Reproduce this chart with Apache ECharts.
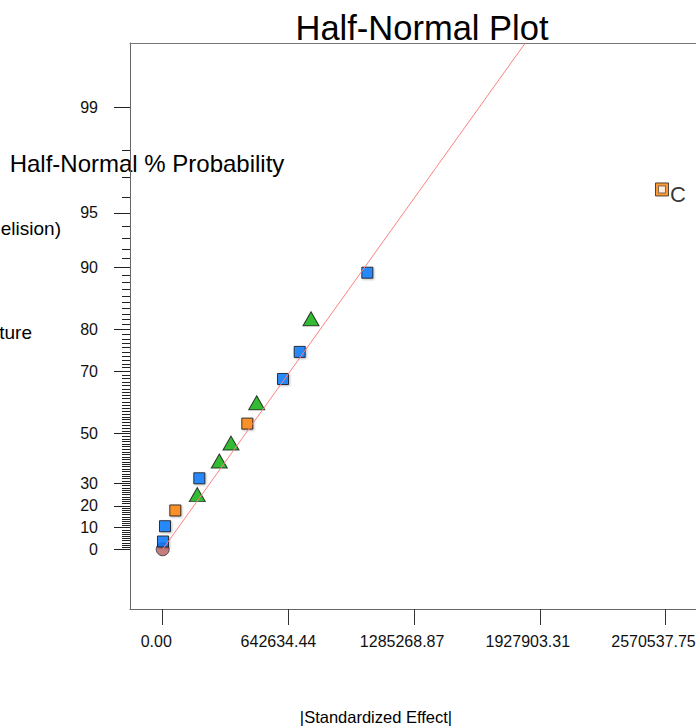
<!DOCTYPE html>
<html>
<head>
<meta charset="utf-8">
<script src="https://cdn.jsdelivr.net/npm/echarts@6/dist/echarts.min.js"></script>
<style>
  html, body { margin: 0; padding: 0; background: #fff; }
  #chart { width: 696px; height: 728px; }
</style>
</head>
<body>
<div id="chart"></div>
<script>
// |Standardized Effect| and half-normal % probability, one pair of arrays per marker group
const blueEffect = [1500, 11800, 187100, 615000, 700400, 1046000];
const blueProb = [3.6, 10.7, 32.1, 67.9, 75.0, 89.3];
const orangeEffect = [64400, 432500];
const orangeProb = [17.9, 53.6];
const greenEffect = [176900, 289400, 349200, 480600, 758200];
const greenProb = [25.0, 39.3, 46.4, 60.7, 82.1];
const originEffect = [0];
const originProb = [0];
const termCEffect = [2552600];
const termCProb = [96.4];
const termCLabel = ['C'];
// red reference line (through origin)
const fitEffect = [0, 1852000];
const fitProb = [0, 99.68];

// tick labels
const yMajorTicks = [0, 10, 20, 30, 50, 70, 80, 90, 95, 99];
const yMinorTicks = [];
for (let i = 1; i <= 98; i++) yMinorTicks.push(i);
const xTicks = [0, 642634.44, 1285268.87, 1927903.31, 2570537.75];

const FONT = '"Liberation Sans", Arial, Helvetica, sans-serif';

// inverse normal CDF (Acklam)
function probit(p) {
  const a = [-3.969683028665376e+01, 2.209460984245205e+02, -2.759285104469687e+02, 1.383577518672690e+02, -3.066479806614716e+01, 2.506628277459239e+00];
  const b = [-5.447609879822406e+01, 1.615858368580409e+02, -1.556989798598866e+02, 6.680131188771972e+01, -1.328068155288572e+01];
  const c = [-7.784894002430293e-03, -3.223964580411365e-01, -2.400758277161838e+00, -2.549732539343734e+00, 4.374664141464968e+00, 2.938163982698783e+00];
  const d = [7.784695709041462e-03, 3.224671290700398e-01, 2.445134137142996e+00, 3.754408661907416e+00];
  const pl = 0.02425, ph = 1 - pl;
  let q, r;
  if (p < pl) {
    q = Math.sqrt(-2 * Math.log(p));
    return (((((c[0]*q+c[1])*q+c[2])*q+c[3])*q+c[4])*q+c[5]) / ((((d[0]*q+d[1])*q+d[2])*q+d[3])*q+1);
  }
  if (p <= ph) {
    q = p - 0.5; r = q * q;
    return (((((a[0]*r+a[1])*r+a[2])*r+a[3])*r+a[4])*r+a[5])*q / (((((b[0]*r+b[1])*r+b[2])*r+b[3])*r+b[4])*r+1);
  }
  q = Math.sqrt(-2 * Math.log(1 - p));
  return -(((((c[0]*q+c[1])*q+c[2])*q+c[3])*q+c[4])*q+c[5]) / ((((d[0]*q+d[1])*q+d[2])*q+d[3])*q+1);
}

// half-normal probability scale: % -> quantile
function hn(pct) {
  if (pct <= 0) return 0;
  return probit((1 + pct / 100) / 2);
}

function pairs(xs, ps) {
  return xs.map((x, i) => [x, hn(ps[i])]);
}

const yMajorZ = yMajorTicks.map(hn);
const yMinorZ = yMinorTicks.map(hn);

const X_MIN = -167175;
const X_MAX = 2726440;
const Y_MIN = -0.348;
const Y_MAX = 2.9505;

const squareStyle = (color) => ({
  color: color,
  borderColor: '#111',
  borderWidth: 1,
  shadowColor: 'rgba(0,0,0,0.3)',
  shadowBlur: 2,
  shadowOffsetX: 1,
  shadowOffsetY: 1
});

const chart = echarts.init(document.getElementById('chart'), null, { renderer: 'svg' });

const option = {
  animation: false,
  backgroundColor: '#fff',
  grid: {
    left: 130,
    top: 43,
    right: 0,
    height: 566,
    show: false,
    containLabel: false,
    outerBoundsMode: 'none'
  },
  xAxis: [
    {
      type: 'value',
      position: 'bottom',
      min: X_MIN,
      max: X_MAX,
      splitLine: { show: false },
      axisLine: { show: true, onZero: false, lineStyle: { color: '#666', width: 1 } },
      axisTick: { customValues: xTicks, length: 16, lineStyle: { color: '#333' } },
      axisLabel: {
        customValues: xTicks,
        margin: 24,
        fontSize: 16,
        fontFamily: FONT,
        color: '#111',
        // labels sit a bit left of their ticks, more so for longer ones
        formatter: (v) => {
          const txt = v.toFixed(2);
          return '{w' + Math.min(txt.length, 10) + '|' + txt + '}';
        },
        rich: {
          w4: { fontSize: 16, fontFamily: FONT, color: '#111', padding: [0, 13, 0, 0] },
          w9: { fontSize: 16, fontFamily: FONT, color: '#111', padding: [0, 20, 0, 0] },
          w10: { fontSize: 16, fontFamily: FONT, color: '#111', padding: [0, 24, 0, 0] }
        }
      }
    },
    {
      // top frame line only
      type: 'value',
      position: 'top',
      min: X_MIN,
      max: X_MAX,
      splitLine: { show: false },
      axisLine: { show: true, onZero: false, lineStyle: { color: '#777', width: 1 } },
      axisTick: { show: false },
      axisLabel: { show: false }
    }
  ],
  yAxis: [
    {
      type: 'value',
      position: 'left',
      min: Y_MIN,
      max: Y_MAX,
      splitLine: { show: false },
      axisLine: { show: true, onZero: false, lineStyle: { color: '#666', width: 1 } },
      axisTick: { customValues: yMajorZ, length: 16, lineStyle: { color: '#222' } },
      axisLabel: {
        customValues: yMajorZ,
        margin: 32,
        fontSize: 16,
        fontFamily: FONT,
        color: '#111',
        formatter: (v) => {
          let best = 0;
          yMajorZ.forEach((z, i) => { if (Math.abs(z - v) < Math.abs(yMajorZ[best] - v)) best = i; });
          return String(yMajorTicks[best]);
        }
      }
    },
    {
      type: 'value',
      position: 'left',
      offset: 0,
      min: Y_MIN,
      max: Y_MAX,
      splitLine: { show: false },
      axisLine: { show: false, onZero: false },
      axisTick: { customValues: yMinorZ, length: 8, lineStyle: { color: '#222' } },
      axisLabel: { show: false, customValues: yMinorZ }
    }
  ],
  graphic: [
    {
      type: 'text', x: 422, y: 28, silent: true,
      style: { text: 'Half-Normal Plot', font: '34.5px ' + FONT, fill: '#000',
        align: 'center', verticalAlign: 'middle', textAlign: 'center', textVerticalAlign: 'middle' }
    },
    {
      type: 'text', x: 147, y: 163, silent: true,
      style: { text: 'Half-Normal % Probability', font: '24px ' + FONT, fill: '#000',
        align: 'center', verticalAlign: 'middle', textAlign: 'center', textVerticalAlign: 'middle' }
    },
    {
      type: 'text', x: 61, y: 228, silent: true,
      style: { text: 'elision)', font: '19px ' + FONT, fill: '#000',
        align: 'right', verticalAlign: 'middle', textAlign: 'right', textVerticalAlign: 'middle' }
    },
    {
      type: 'text', x: 32, y: 332, silent: true,
      style: { text: 'ture', font: '19px ' + FONT, fill: '#000',
        align: 'right', verticalAlign: 'middle', textAlign: 'right', textVerticalAlign: 'middle' }
    },
    {
      type: 'text', x: 376, y: 717, silent: true,
      style: { text: '|Standardized Effect|', font: '16.5px ' + FONT, fill: '#000',
        align: 'center', verticalAlign: 'middle', textAlign: 'center', textVerticalAlign: 'middle' }
    }
  ],
  series: [
    {
      name: 'fit',
      type: 'line',
      data: pairs(fitEffect, fitProb),
      showSymbol: false,
      symbol: 'none',
      clip: true,
      lineStyle: { color: '#FF8080', width: 1 },
      silent: true
    },
    {
      name: 'origin',
      type: 'scatter',
      data: pairs(originEffect, originProb),
      symbol: 'circle',
      symbolSize: 13,
      itemStyle: { color: '#B85C5C', borderColor: '#333', borderWidth: 1 }
    },
    {
      name: 'blue',
      type: 'scatter',
      data: pairs(blueEffect, blueProb),
      symbol: 'rect',
      symbolSize: 11,
      itemStyle: squareStyle('#0077FF')
    },
    {
      name: 'orange',
      type: 'scatter',
      data: pairs(orangeEffect, orangeProb),
      symbol: 'rect',
      symbolSize: 11,
      itemStyle: squareStyle('#FF8000')
    },
    {
      name: 'green',
      type: 'scatter',
      data: pairs(greenEffect, greenProb),
      symbol: 'triangle',
      symbolSize: [16, 14],
      itemStyle: {
        color: '#00AA00',
        borderColor: '#111',
        borderWidth: 1
      }
    },
    {
      name: 'termC',
      type: 'scatter',
      data: pairs(termCEffect, termCProb),
      symbol: 'rect',
      symbolSize: 13,
      itemStyle: { color: '#FF8000', borderColor: '#222', borderWidth: 1 },
      label: {
        show: true,
        position: 'right',
        distance: 1,
        offset: [0, 5],
        fontSize: 22,
        fontFamily: FONT,
        color: '#000',
        formatter: (p) => termCLabel[p.dataIndex]
      }
    },
    {
      name: 'termCInner',
      type: 'scatter',
      data: pairs(termCEffect, termCProb),
      symbol: 'rect',
      symbolSize: 7,
      itemStyle: { color: '#fff', borderColor: '#555', borderWidth: 1 }
    }
  ]
};

chart.setOption(option);
</script>
</body>
</html>
